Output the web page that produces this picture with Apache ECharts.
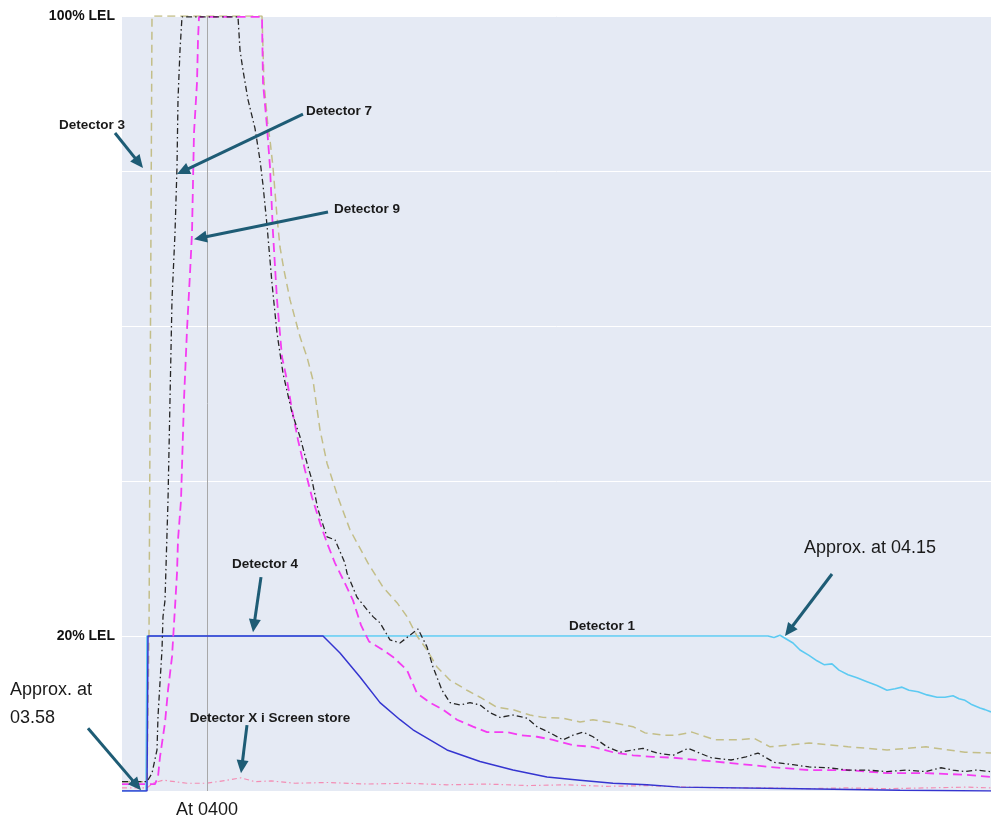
<!DOCTYPE html>
<html>
<head>
<meta charset="utf-8">
<script src="https://cdn.jsdelivr.net/npm/echarts@6/dist/echarts.min.js"></script>
<style>
html,body{margin:0;padding:0;background:#ffffff;}
#chart{width:991px;height:821px;}
</style>
</head>
<body>
<div id="chart"></div>
<script>
// x: minutes relative to 04:00 ; y: % LEL
const xMin = -2.125, xMax = 19.6;
const yTickLabels = {100: '100% LEL', 20: '20% LEL'};
const refLineLabel = 'At 0400';

const det1 = [[-2.125,0],[-1.525,0],[-1.5,20],[14.025,20],[14.175,19.8],[14.325,20.1],[14.375,20.0],[14.65,19.1],[14.825,18.2],[15.05,17.5],[15.25,16.8],[15.425,16.3],[15.625,16.4],[15.8,15.6],[16.025,15.0],[16.25,14.6],[16.5,14.1],[16.75,13.6],[17.0,13.0],[17.2,13.2],[17.375,13.4],[17.55,13.0],[17.775,12.8],[18.0,12.4],[18.25,12.1],[18.45,12.1],[18.65,12.3],[18.8,11.9],[18.95,11.7],[19.1,11.2],[19.325,10.7],[19.45,10.5],[19.6,10.2]];

const det4 = [[-2.125,0],[-1.5,0],[-1.475,20],[2.9,20],[3.325,17.8],[3.825,14.7],[4.325,11.4],[4.825,9.2],[5.15,7.9],[6.0,5.3],[6.825,3.8],[7.65,2.7],[8.5,1.8],[9.325,1.4],[10.15,1.0],[11.0,0.8],[11.825,0.5],[14.825,0.3],[17.325,0.1],[19.6,0]];

const det3 = [[-2.125,1.2],[-1.5,1.2],[-1.45,20],[-1.375,100],[1.375,100],[1.425,91.4],[1.525,85.7],[1.575,84.0],[1.65,80.5],[1.75,74.1],[1.825,70.2],[1.925,67.2],[2.075,63.4],[2.325,58.6],[2.5,56.0],[2.65,53.0],[2.825,46.6],[3.0,42.3],[3.275,37.9],[3.575,33.7],[4.025,29.4],[4.4,26.3],[4.75,24.3],[5.0,22.5],[5.25,20.0],[5.5,18.2],[5.75,16.0],[6.075,14.3],[6.5,13.0],[6.825,12.1],[7.25,10.8],[7.65,10.5],[8.075,9.8],[8.4,9.5],[8.9,9.4],[9.325,8.9],[9.65,9.2],[10.15,8.8],[10.65,8.3],[10.95,7.5],[11.4,7.2],[11.725,7.2],[12.125,7.6],[12.7,6.6],[13.3,6.6],[13.675,6.8],[14.075,5.7],[15.05,6.2],[16.025,5.7],[17.0,5.3],[17.975,5.7],[18.95,5.0],[19.6,4.9]];

const det7 = [[-2.125,1.2],[-1.5,1.2],[-1.375,2.3],[-1.25,5.3],[-1.225,9.6],[-1.175,14.0],[-1.125,18.2],[-1.1,22.5],[-1.05,24.6],[-0.975,37.5],[-0.925,50.5],[-0.875,63.4],[-0.8,72.0],[-0.75,80.5],[-0.725,89.2],[-0.675,95.6],[-0.625,99.9],[0.775,99.9],[0.825,95.6],[0.9,93.0],[1.025,89.2],[1.2,85.5],[1.325,81.4],[1.4,78.2],[1.5,73.0],[1.625,65.5],[1.75,59.1],[1.9,53.9],[2.125,48.8],[2.325,45.7],[2.5,42.3],[2.625,40.1],[2.775,36.3],[3.0,32.8],[3.2,32.4],[3.45,29.4],[3.5,28.1],[3.75,25.0],[4.0,23.4],[4.15,22.5],[4.325,21.7],[4.575,19.5],[4.825,19.1],[5.075,20.1],[5.275,20.9],[5.5,18.6],[5.65,16.0],[5.875,13.0],[6.075,11.4],[6.325,11.1],[6.575,11.4],[6.825,11.1],[7.075,10.1],[7.325,9.5],[7.65,9.8],[8.0,9.4],[8.25,8.3],[8.575,7.5],[8.9,6.6],[9.15,7.2],[9.4,7.6],[9.65,7.0],[10.0,5.7],[10.325,5.0],[10.65,5.3],[10.9,5.5],[11.25,4.9],[11.65,4.6],[12.025,5.5],[12.6,4.3],[13.1,4.0],[13.475,4.4],[13.775,4.9],[14.175,3.7],[14.65,3.4],[15.05,3.1],[15.525,3.0],[16.025,2.7],[16.5,2.7],[17.0,2.5],[17.475,2.7],[17.975,2.5],[18.35,3.0],[18.65,2.7],[18.95,2.5],[19.225,2.7],[19.6,2.5]];

const det9 = [[-2.125,0.9],[-1.3,0.9],[-1.225,1.8],[-1.175,4.4],[-1.05,8.8],[-0.975,13.0],[-0.875,17.3],[-0.8,23.7],[-0.75,28.1],[-0.725,32.4],[-0.65,37.5],[-0.575,50.5],[-0.5,59.5],[-0.425,66.8],[-0.375,72.0],[-0.35,78.5],[-0.325,84.9],[-0.25,91.4],[-0.225,96.9],[-0.2,99.9],[1.375,99.9],[1.4,91.4],[1.5,85.7],[1.575,80.5],[1.65,72.0],[1.75,63.4],[1.875,56.0],[2.0,53.0],[2.125,49.2],[2.275,45.3],[2.45,41.4],[2.625,37.9],[2.825,34.6],[3.0,32.0],[3.2,29.4],[3.45,26.8],[3.65,24.6],[3.85,21.4],[4.05,19.3],[4.4,18.2],[4.65,17.3],[5.0,15.6],[5.25,12.6],[5.575,11.4],[5.9,10.5],[6.25,9.2],[6.65,8.3],[7.0,7.6],[7.5,7.6],[7.825,7.2],[8.25,7.0],[8.65,6.6],[9.15,5.9],[9.65,5.7],[10.15,5.0],[10.65,4.6],[11.15,4.4],[11.65,4.3],[13.1,3.6],[14.075,3.1],[15.05,2.7],[16.025,2.7],[17.0,2.3],[17.975,2.3],[18.95,2.1],[19.6,1.8]];

const detX = [[-2.125,0.4],[-1.5,0.4],[-1.35,1.0],[-1.1,1.4],[-0.8,1.2],[-0.5,1.0],[0,1.0],[0.5,1.4],[0.85,1.7],[1.2,1.2],[1.6,1.3],[2.2,1.0],[3.0,1.1],[4.0,0.9],[5.0,1.0],[6.0,0.8],[7.0,0.9],[8.0,0.7],[9.0,0.8],[10.0,0.6],[11.0,0.7],[12.0,0.5],[13.0,0.4],[14.0,0.4],[15.0,0.3],[16.0,0.4],[17.0,0.3],[18.0,0.4],[19.0,0.5],[19.6,0.4]];

// annotations in data coordinates
const annoTexts = [
  {text:'Detector 3', at:[-2.875,85.9], bold:true},
  {text:'Detector 7', at:[3.3,87.7], bold:true},
  {text:'Detector 9', at:[4.0,75.0], bold:true},
  {text:'Detector 4', at:[1.45,29.2], bold:true},
  {text:'Detector 1', at:[9.875,21.2], bold:true},
  {text:'Detector X i Screen store', at:[1.575,9.4], bold:true},
  {text:'Approx. at 04.15', at:[16.575,31.4], bold:false},
  {text:'Approx. at', at:[-4.925,13.0], bold:false, left:true},
  {text:'03.58', at:[-4.925,9.4], bold:false, left:true}
];
const annoArrows = [
  {from:[-2.3,84.9], to:[-1.6,80.4]},
  {from:[2.4,87.35], to:[-0.75,79.6]},
  {from:[3.025,74.7], to:[-0.325,71.2]},
  {from:[1.35,27.6], to:[1.15,20.5]},
  {from:[1.0,8.5], to:[0.85,2.3]},
  {from:[15.625,28.0], to:[14.45,20.0]},
  {from:[-2.975,8.1], to:[-1.65,0.1]}
];

const FONT = '"Liberation Sans", Arial, sans-serif';
const chart = echarts.init(document.getElementById('chart'), null, {renderer:'canvas'});

function mk(name, data, color, width, type, z) {
  return {name, type:'line', data, showSymbol:false, symbol:'none', animation:false, z,
    lineStyle:{color, width, type}, silent:true};
}

const s4 = mk('Detector 4', det4, '#3535d0', 1.5, 'solid', 6);
s4.markLine = {silent:true, symbol:'none', animation:false,
  data:[{xAxis:0}],
  lineStyle:{color:'#a8a8a8', width:1, type:'solid'},
  label:{formatter:refLineLabel, position:'start', distance:10, fontSize:18, color:'#1a1a1a', fontFamily:FONT}};

chart.setOption({
  animation:false,
  backgroundColor:'#ffffff',
  grid:{left:122, right:0, top:16, bottom:30, show:true, backgroundColor:'#e5eaf4', borderWidth:0},
  xAxis:{type:'value', min:xMin, max:xMax, axisLine:{show:false}, axisTick:{show:false}, axisLabel:{show:false}, splitLine:{show:false}},
  yAxis:{type:'value', min:0, max:100, interval:20,
    axisLine:{show:false}, axisTick:{show:false},
    splitLine:{show:true, lineStyle:{color:'#ffffff', width:1}},
    axisLabel:{margin:7, fontSize:14, fontWeight:'bold', color:'#111', fontFamily:FONT,
      formatter:v => yTickLabels[v] || ''}},
  series:[
    mk('Detector X i Screen store', detX, '#f38db4', 1.2, [5,3,1.5,3], 2),
    mk('Detector 1', det1, '#5ccaf2', 1.6, 'solid', 4),
    s4,
    mk('Detector 3', det3, '#c3be88', 1.5, [8,5], 5),
    mk('Detector 9', det9, '#f43cf2', 1.8, [9,5], 7),
    mk('Detector 7', det7, '#262626', 1.3, [6,3,1.5,3], 8)
  ]
});

function px(p){ return chart.convertToPixel({gridIndex:0}, p); }
const graphics = [];
const ARROW = '#1e5c75';
annoArrows.forEach(a => {
  const p0 = px(a.from), p1 = px(a.to);
  const dx = p1[0]-p0[0], dy = p1[1]-p0[1];
  const L = Math.hypot(dx,dy), ux = dx/L, uy = dy/L;
  const hl = 13, hw = 6;
  const bx = p1[0]-ux*hl, by = p1[1]-uy*hl;
  graphics.push({type:'line', silent:true, z:100, shape:{x1:p0[0], y1:p0[1], x2:bx+ux*2, y2:by+uy*2}, style:{stroke:ARROW, lineWidth:3}});
  graphics.push({type:'polygon', silent:true, z:100, shape:{points:[[p1[0],p1[1]],[bx-uy*hw,by+ux*hw],[bx+uy*hw,by-ux*hw]]}, style:{fill:ARROW}});
});
annoTexts.forEach(t => {
  const p = px(t.at);
  graphics.push({type:'text', silent:true, z:101, x:p[0], y:p[1],
    style:{text:t.text, fill:'#1a1a1a', fontFamily:FONT,
      fontSize: t.bold ? 13.5 : 18, fontWeight: t.bold ? 'bold' : 'normal',
      align: t.left ? 'left' : 'center', verticalAlign:'middle'}});
});
chart.setOption({graphic:graphics});
</script>
</body>
</html>
